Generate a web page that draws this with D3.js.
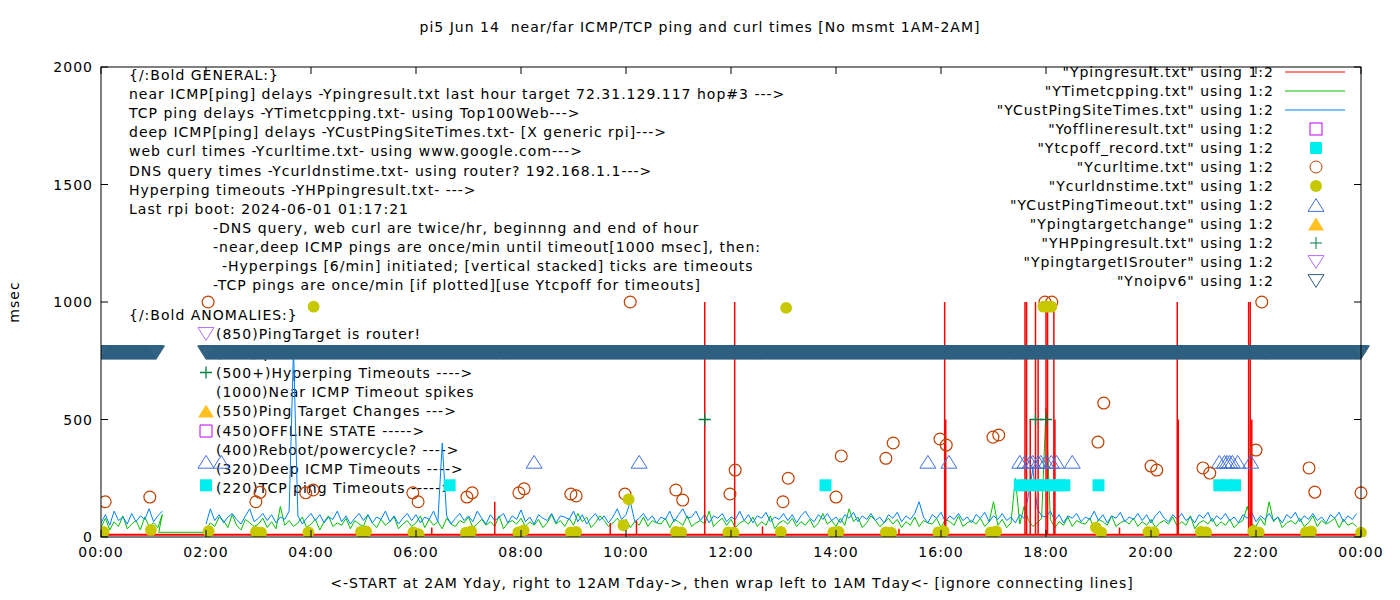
<!DOCTYPE html>
<html><head><meta charset="utf-8">
<script src="https://cdn.jsdelivr.net/npm/d3@7"></script>
<style>body{margin:0;background:#fff}text{font-family:"DejaVu Sans",sans-serif;font-size:14px;letter-spacing:1px}</style>
</head><body><svg id="c" width="1400" height="600"></svg>
<script>
// hours since midnight, msec
var curlTimes = [[0.08,150],[0.93,170],[2.04,1000],[2.95,150],[3.03,190],[3.9,188],[4.04,200],[5.94,188],[6.04,150],[6.97,170],[7.07,188],[7.96,188],[8.06,205],[8.95,183],[9.05,175],[9.98,183],[10.08,1000],[10.95,200],[11.08,157],[11.98,183],[12.08,285],[12.99,150],[13.09,250],[14.0,170],[14.1,345],[14.95,335],[15.09,400],[15.98,417],[16.1,391],[16.99,425],[17.1,434],[17.98,1000],[18.11,1000],[18.99,404],[19.1,570],[20.0,302],[20.11,285],[20.99,294],[21.12,272],[22.0,370],[22.11,1000],[23.01,294],[23.12,191],[24.0,188]];
var dnsTimes = [[0.05,22],[0.95,30],[2.05,25],[2.95,22],[3.05,18],[3.95,20],[4.05,980],[4.95,22],[5.05,24],[5.95,20],[6.05,12],[6.95,18],[7.05,24],[7.95,20],[8.05,28],[8.95,20],[9.05,22],[9.95,50],[10.05,160],[10.95,22],[11.05,20],[11.95,20],[12.05,18],[12.95,22],[13.05,975],[13.95,20],[14.05,22],[14.95,20],[15.05,18],[15.95,20],[16.05,25],[16.95,20],[17.05,24],[17.95,980],[18.03,980],[18.1,980],[18.95,40],[19.05,20],[19.95,22],[20.05,20],[20.95,22],[21.05,20],[21.95,25],[22.05,20],[22.95,20],[23.05,24],[24.0,18]];
var deepTimeouts = [[2.0,320],[2.29,320],[8.25,320],[10.25,320],[15.75,320],[16.15,320],[17.5,320],[17.6,320],[17.7,320],[17.75,320],[17.85,320],[17.9,320],[18.0,320],[18.1,320],[18.2,320],[18.5,320],[21.3,320],[21.4,320],[21.45,320],[21.5,320],[21.55,320],[21.65,320],[21.9,320]];
var tcpOff = [[2.0,220],[6.64,220],[13.8,220],[17.5,220],[17.65,220],[17.8,220],[17.95,220],[18.1,220],[18.25,220],[18.35,220],[19.0,220],[21.3,220],[21.45,220],[21.6,220]];
var offline = [[2.0,451]];
var targetChange = [[2.0,536]];
var isRouter = [[2.0,864]];
var hyperping = [[2.0,700],[11.5,500],[17.8,500],[18.0,500]];
var noipv6Spans = [[0,1.05],[2.0,24]]; // one sample per minute, value 785
var nearSpikes = [[11.5,1000],[12.07,1000],[16.07,1000],[16.09,500],[17.6,1000],[17.63,1000],[17.7,500],[17.8,1000],[17.85,760],[18.0,1000],[18.03,1000],[18.15,1000],[18.17,500],[20.5,1000],[20.52,500],[21.86,1000],[21.89,1000],[21.92,500],[7.5,150],[10.2,70],[9.7,60],[6.3,40],[3.1,30],[12.6,45],[15.2,35],[19.4,40]];
// 5-min samples from 00:00, one row per hour, null = no data
var tcpVals = [
 [40,80,30,65,45,90,35,55,70,30,85,45],[60,40,95,null,null,null,null,null,null,null,null,null],
 [30,60,45,85,70,40,95,50,30,75,60,45],[55,80,40,65,35,130,50,70,45,60,85,40],
 [55,75,30,65,90,45,60,50,80,35,70,55],[45,95,60,40,75,50,65,85,35,55,70,45],
 [60,90,40,75,50,65,35,80,55,45,70,60],[85,40,55,75,50,65,45,90,35,60,70,55],
 [80,45,65,50,75,40,60,95,55,70,45,80],[50,100,65,85,40,60,90,70,45,60,80,55],
 [75,40,65,50,85,45,70,60,55,80,40,75],[65,50,90,45,60,70,55,110,45,65,80,50],
 [75,40,60,70,55,85,45,65,50,90,35,60],[70,55,80,45,65,50,75,40,60,100,55,70],
 [45,80,50,120,65,85,40,60,90,70,45,60],[80,55,75,40,65,50,85,45,70,60,55,80],
 [40,75,65,50,90,45,60,70,55,80,45,65],[150,50,75,40,60,250,55,130,70,45,60,80],
 [550,75,40,65,50,85,45,70,60,55,80,40],[75,65,50,90,45,60,70,55,80,45,65,50],
 [75,40,60,70,55,85,45,65,50,90,35,60],[70,55,80,45,65,50,75,40,60,70,130,55],
 [45,80,50,150,65,85,40,60,70,55,80,45],[60,90,45,70,55,65,80,40,75,50,60,45]];
var custVals = [
 [60,95,50,110,70,85,55,100,65,90,75,120],[65,90,110,null,null,null,null,null,null,null,null,null],
 [55,120,70,95,60,85,100,75,55,90,120,65],[80,100,70,95,60,85,75,110,800,90,55,80],
 [100,70,95,60,85,75,110,65,90,55,80,100],[70,95,60,85,75,110,65,90,55,80,100,70],
 [95,60,85,75,110,65,400,90,55,80,100,70],[90,65,110,80,55,95,70,85,100,60,90,75],
 [115,65,85,55,95,80,70,100,60,90,85,75],[110,65,95,55,80,100,70,90,60,85,120,75],
 [95,150,65,80,100,70,90,60,85,75,110,65],[95,120,80,85,110,70,95,60,90,80,100,65],
 [85,75,110,70,95,60,90,80,105,65,85,75],[100,70,95,60,90,110,80,65,95,75,100,70],
 [85,60,95,80,105,65,90,75,100,70,85,60],[95,80,105,65,90,75,100,150,85,60,95,80],
 [105,65,90,75,100,70,85,60,95,80,105,65],[90,75,100,70,85,60,95,80,180,290,120,90],
 [85,110,70,95,60,90,80,100,65,85,75,110],[70,95,60,90,80,105,65,85,75,100,70,95],
 [60,90,110,80,65,95,75,100,70,85,60,95],[80,105,65,90,75,100,70,85,60,95,80,105],
 [65,90,75,100,70,85,60,95,80,105,65,90],[75,100,70,85,60,95,80,105,65,90,75,100]];
var baseNear = 10;

var yTicks = [0,500,1000,1500,2000];
var xTicks = d3.range(0,25,2);
var legendLabels = ['"Ypingresult.txt" using 1:2','"YTimetcpping.txt" using 1:2','"YCustPingSiteTimes.txt" using 1:2','"Yofflineresult.txt" using 1:2','"Ytcpoff_record.txt" using 1:2','"Ycurltime.txt" using 1:2','"Ycurldnstime.txt" using 1:2','"YCustPingTimeout.txt" using 1:2','"Ypingtargetchange" using 1:2','"YHPpingresult.txt" using 1:2','"YpingtargetISrouter" using 1:2','"Ynoipv6" using 1:2'];
var notes = [
 [0,'{/:Bold GENERAL:}'],[0,'near ICMP[ping] delays -Ypingresult.txt last hour target 72.31.129.117 hop#3 --->'],
 [0,'TCP ping delays -YTimetcpping.txt- using Top100Web--->'],[0,'deep ICMP[ping] delays -YCustPingSiteTimes.txt- [X generic rpi]--->'],
 [0,'web curl times -Ycurltime.txt- using www.google.com--->'],[0,'DNS query times -Ycurldnstime.txt- using router? 192.168.1.1--->'],
 [0,'Hyperping timeouts -YHPpingresult.txt- --->'],[0,'Last rpi boot: 2024-06-01 01:17:21'],
 [84,'-DNS query, web curl are twice/hr, beginnng and end of hour'],[84,'-near,deep ICMP pings are once/min until timeout[1000 msec], then:'],
 [93,'-Hyperpings [6/min] initiated; [vertical stacked] ticks are timeouts'],[84,'-TCP pings are once/min [if plotted][use Ytcpoff for timeouts]']];
var anomalies = ['(850)PingTarget is router!','(785)ipv6 failed ---->','(500+)Hyperping Timeouts ---->','(1000)Near ICMP Timeout spikes','(550)Ping Target Changes --->','(450)OFFLINE STATE ----->','(400)Reboot/powercycle? ---->','(320)Deep ICMP Timeouts ---->','(220)TCP ping Timeouts ----->'];

var svg = d3.select('#c');
var L=101,R=1361,T=67,B=537;
var x = d3.scaleLinear().domain([0,24]).range([L,R]);
var y = d3.scaleLinear().domain([0,2000]).range([B,T]);
svg.append('clipPath').attr('id','cp').append('rect').attr('x',L).attr('y',T-10).attr('width',R-L+12).attr('height',B-T+10);

svg.append('text').attr('x',700).attr('y',32).attr('text-anchor','middle')
  .text('pi5 Jun 14  near/far ICMP/TCP ping and curl times [No msmt 1AM-2AM]').style('white-space','pre');
svg.append('text').attr('x',732).attr('y',588).attr('text-anchor','middle')
  .text('<-START at 2AM Yday, right to 12AM Tday->, then wrap left to 1AM Tday<- [ignore connecting lines]');
svg.append('text').attr('transform','translate(19,302) rotate(-90)').attr('text-anchor','middle').text('msec');

// notes text
var ng = svg.append('g');
notes.forEach(function(n,i){ ng.append('text').attr('x',129+n[0]).attr('y',80+i*19.1).text(n[1]); });
ng.append('text').attr('x',129).attr('y',320).text('{/:Bold ANOMALIES:}');
anomalies.forEach(function(a,i){ ng.append('text').attr('x',216).attr('y',339+i*19.3).text(a); });

// lines
var toPts = function(rows){ var out=[]; rows.forEach(function(r,h){ r.forEach(function(v,k){ out.push([h+k/12,v]); }); }); return out; };
var line = d3.line().defined(function(d){return d[1]!==null;}).x(function(d){return x(d[0]);}).y(function(d){return y(d[1]);});
var g = svg.append('g').attr('clip-path','url(#cp)');
var tcpPts = toPts(tcpVals).filter(function(d){return d[1]!==null;});
tcpPts.splice(15,0,[1.1,20],[1.95,20]);
g.append('path').datum(tcpPts).attr('d',line).attr('fill','none').attr('stroke','#00c000').attr('stroke-width',1);
g.append('path').datum(toPts(custVals)).attr('d',line).attr('fill','none').attr('stroke','#0080ff').attr('stroke-width',1);
g.append('path').datum([[0,baseNear],[24,baseNear]]).attr('d',line).attr('stroke','#ff0000').attr('stroke-width',2);
g.selectAll('.sp').data(nearSpikes).enter().append('line').attr('x1',function(d){return x(d[0]);}).attr('x2',function(d){return x(d[0]);})
  .attr('y1',y(baseNear)).attr('y2',function(d){return y(d[1]);}).attr('stroke','#ff0000').attr('stroke-width',1.5);

// markers
function tri(s,down){ return down? 'M'+(-s)+','+(-s*0.8)+'L'+s+','+(-s*0.8)+'L0,'+(s*0.8)+'Z' : 'M'+(-s)+','+(s*0.8)+'L'+s+','+(s*0.8)+'L0,'+(-s*0.8)+'Z'; }
function pts(data,fn){ return g.selectAll(null).data(data).enter().append('path').attr('transform',function(d){return 'translate('+x(d[0])+','+y(d[1])+')';}).attr('d',fn); }
var noip=[]; noipv6Spans.forEach(function(s){ for(var m=s[0]*60;m<=s[1]*60;m++) noip.push([m/60,785]); });
pts(noip,tri(8,true)).attr('fill','none').attr('stroke','#2f6080').attr('stroke-width',1.2);
pts(isRouter,tri(8,true)).attr('fill','none').attr('stroke','#b070ff');
pts(targetChange,tri(8,false)).attr('fill','#ffc020');
pts(offline,'M-6,-6h12v12h-12Z').attr('fill','none').attr('stroke','#c000ff');
pts(tcpOff,'M-6,-6h12v12h-12Z').attr('fill','#00eeee');
pts(deepTimeouts,tri(8,false)).attr('fill','none').attr('stroke','#4070e0');
pts(hyperping,'M-6,0h12M0,-6v12').attr('stroke','#008040').attr('stroke-width',1.3);
pts(curlTimes,d3.symbol(d3.symbolCircle,110)).attr('fill','none').attr('stroke','#c04000').attr('stroke-width',1.2);
pts(dnsTimes,d3.symbol(d3.symbolCircle,110)).attr('fill','#c8c800');

// axes frame
svg.append('rect').attr('x',L).attr('y',T).attr('width',R-L).attr('height',B-T).attr('fill','none').attr('stroke','#000');
var ax = svg.append('g');
yTicks.forEach(function(t){
  ax.append('line').attr('x1',L).attr('x2',L+7).attr('y1',y(t)).attr('y2',y(t)).attr('stroke','#000');
  ax.append('line').attr('x1',R-7).attr('x2',R).attr('y1',y(t)).attr('y2',y(t)).attr('stroke','#000');
  ax.append('text').attr('x',L-8).attr('y',y(t)+5).attr('text-anchor','end').text(t);
});
xTicks.forEach(function(t){
  ax.append('line').attr('x1',x(t)).attr('x2',x(t)).attr('y1',B).attr('y2',B-7).attr('stroke','#000');
  ax.append('line').attr('x1',x(t)).attr('x2',x(t)).attr('y1',T).attr('y2',T+7).attr('stroke','#000');
  ax.append('text').attr('x',x(t)).attr('y',B+20).attr('text-anchor','middle').text(d3.format('02')(t%24)+':00');
});

// legend
var lg = svg.append('g');
var sym = [null,null,null,'sq','fsq','c','fc','t','ft','p','dt','dt2'], lcol=['#ff0000','#00c000','#0080ff'];
legendLabels.forEach(function(s,i){
  var yy=72+i*19;
  lg.append('text').attr('x',1274).attr('y',yy+5).attr('text-anchor','end').text(s);
  var m = lg.append('g').attr('transform','translate(1316,'+yy+')');
  if(i<3) m.append('line').attr('x1',-31).attr('x2',29).attr('stroke',lcol[i]);
  else if(sym[i]=='sq') m.append('rect').attr('x',-6).attr('y',-6).attr('width',12).attr('height',12).attr('fill','none').attr('stroke','#c000ff');
  else if(sym[i]=='fsq') m.append('rect').attr('x',-6).attr('y',-6).attr('width',12).attr('height',12).attr('fill','#00eeee');
  else if(sym[i]=='c') m.append('circle').attr('r',6).attr('fill','none').attr('stroke','#c04000');
  else if(sym[i]=='fc') m.append('circle').attr('r',6).attr('fill','#c8c800');
  else if(sym[i]=='t') m.append('path').attr('d',tri(8,false)).attr('fill','none').attr('stroke','#4070e0');
  else if(sym[i]=='ft') m.append('path').attr('d',tri(8,false)).attr('fill','#ffc020');
  else if(sym[i]=='p') m.append('path').attr('d','M-6,0h12M0,-6v12').attr('stroke','#008040');
  else if(i==10) m.append('path').attr('d',tri(8,true)).attr('fill','none').attr('stroke','#b070ff');
  else m.append('path').attr('d',tri(8,true)).attr('fill','none').attr('stroke','#2f6080');
});
</script></body></html>
